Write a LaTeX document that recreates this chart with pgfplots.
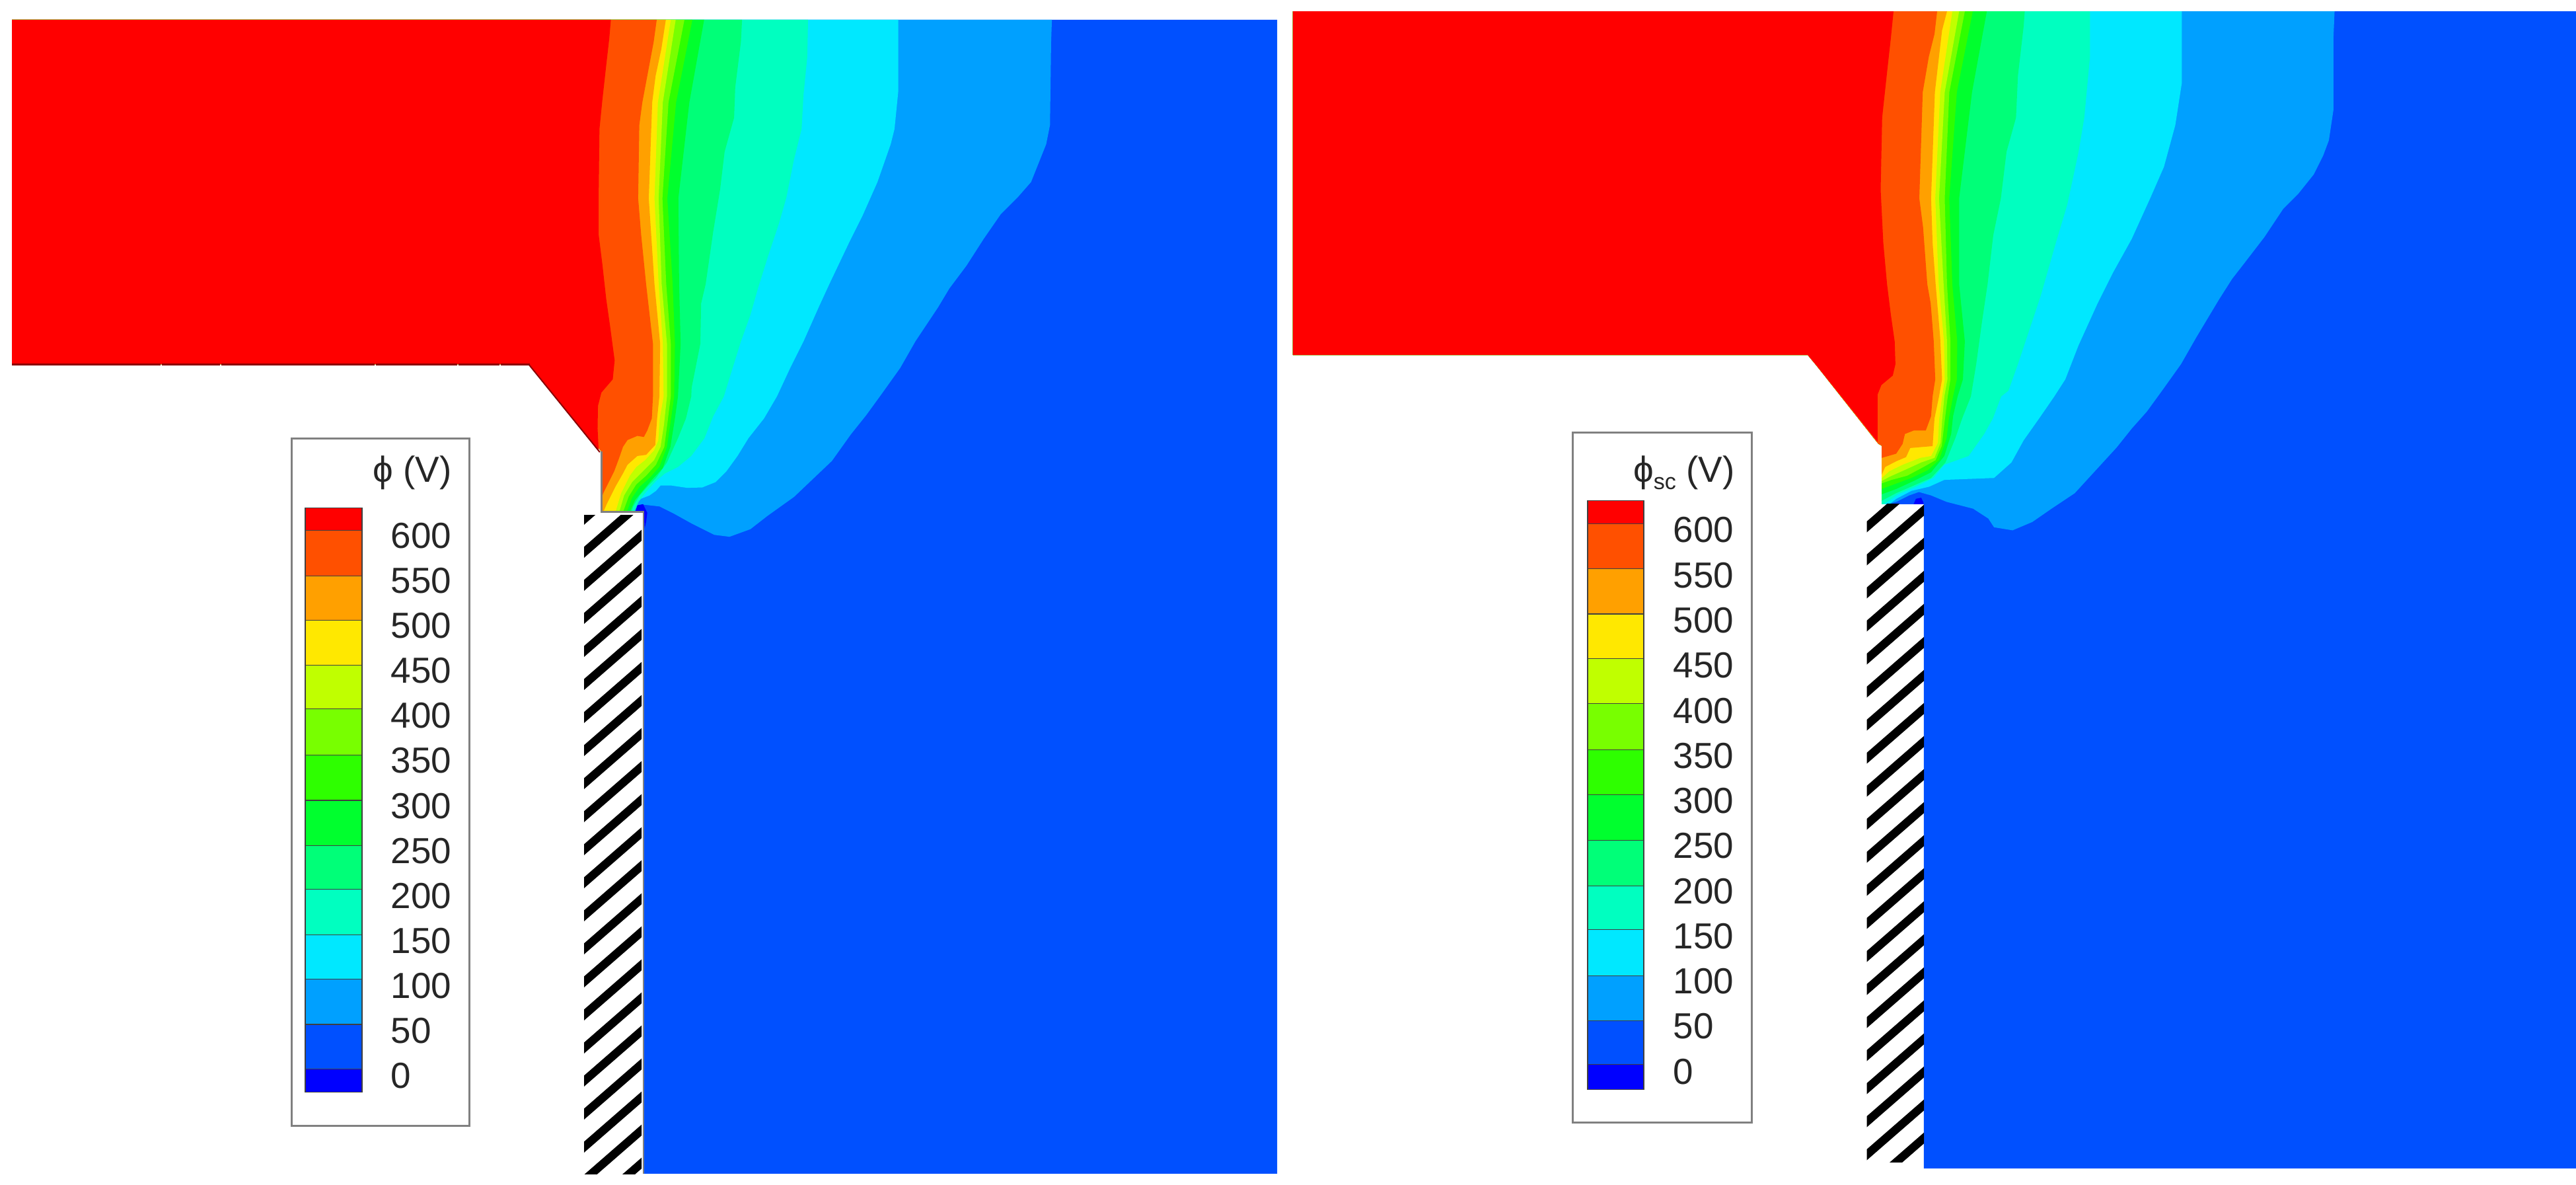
\documentclass[border=0pt]{standalone}
\usepackage{pgfplots}
\pgfplotsset{compat=1.18}
\usepackage{fontspec}
\setmainfont{Liberation Sans}
\definecolor{c0}{HTML}{0000FF}
\definecolor{c1}{HTML}{0050FF}
\definecolor{c2}{HTML}{00A0FF}
\definecolor{c3}{HTML}{00E8FF}
\definecolor{c4}{HTML}{00FFC0}
\definecolor{c5}{HTML}{00FF78}
\definecolor{c6}{HTML}{00FF2E}
\definecolor{c7}{HTML}{2EFF00}
\definecolor{c8}{HTML}{78FF00}
\definecolor{c9}{HTML}{C0FF00}
\definecolor{c10}{HTML}{FFE800}
\definecolor{c11}{HTML}{FFA000}
\definecolor{c12}{HTML}{FF5000}
\definecolor{c13}{HTML}{FF0000}
\pgfplotsset{pano/.style={hide axis,scale only axis,width=38.99cm,height=17.93cm,at={(0cm,0cm)},anchor=south west,y dir=reverse,clip=false}}
\newcommand{\lbar}[5]{\addplot[fill=#1,draw=black!75,line width=0.012cm] coordinates {(#2,#4)(#3,#4)(#3,#5)(#2,#5)} -- cycle;}
\newcommand{\lab}[3]{\node[anchor=base west,inner sep=0pt,text=black!85] at (axis cs:#1,#2) {\fontsize{15.6}{18}\selectfont #3};}
\begin{document}
\begin{tikzpicture}
\path[use as bounding box] (0cm,0cm) rectangle (38.99cm,17.93cm);
% ---------- left field (crop frame)
\begin{axis}[pano,xmin=-1393.78,xmax=5399.2,ymin=0,ymax=3123.8]
\addplot[fill=c1,draw=none] coordinates {(-1362,52)(1974,52)(1974,3094)(305,3094)(305,1350)(192,1350)(192,1190)(0,960)(-1362,960)};
\addplot[fill=c2,draw=none] coordinates {(1380,52)(1378,110)(1375,330)(1365,380)(1345,430)(1325,480)(1290,520)(1245,565)(1200,630)(1155,700)(1110,760)(1080,810)(1020,900)(980,970)(930,1040)(890,1095)(850,1145)(800,1215)(700,1310)(630,1360)(585,1395)(530,1415)(490,1410)(430,1380)(385,1355)(345,1335)(300,1330)(280,1350)(192,1350)(192,1190)(0,960)(-1362,960)(-1362,52)};
\addplot[fill=c3,draw=none] coordinates {(975,52)(975,240)(965,340)(955,380)(920,480)(880,570)(845,640)(795,745)(765,810)(725,900)(690,970)(655,1045)(621,1103)(580,1155)(551,1202)(522,1242)(493,1271)(458,1285)(418,1286)(377,1280)(348,1280)(336,1294)(319,1306)(296,1315)(281,1329)(273,1350)(192,1350)(192,1190)(0,960)(-1362,960)(-1362,52)};
\addplot[fill=c4,draw=none] coordinates {(737,52)(735,150)(725,250)(720,340)(700,420)(680,520)(660,590)(630,680)(605,760)(585,830)(560,900)(535,980)(515,1045)(487,1097)(464,1155)(429,1202)(394,1231)(360,1248)(336,1268)(307,1300)(290,1323)(278,1350)(192,1350)(192,1190)(0,960)(-1362,960)(-1362,52)};
\addplot[fill=c5,draw=none] coordinates {(563,52)(560,110)(545,230)(542,310)(517,400)(505,500)(487,610)(467,749)(455,800)(453,906)(430,1022)(429,1045)(415,1103)(394,1155)(365,1219)(336,1260)(316,1280)(293,1306)(276,1335)(271,1350)(192,1350)(192,1190)(0,960)(-1362,960)(-1362,52)};
\addplot[fill=c6,draw=none] coordinates {(463,52)(424,270)(395,523)(397,749)(401,906)(394,1045)(386,1103)(374,1178)(354,1234)(325,1265)(305,1289)(281,1318)(267,1350)(192,1350)(192,1190)(0,960)(-1362,960)(-1362,52)};
\addplot[fill=c7,draw=none] coordinates {(432,52)(389,270)(366,523)(380,749)(386,906)(384,1045)(375,1109)(365,1178)(345,1231)(319,1260)(293,1283)(273,1312)(259,1350)(192,1350)(192,1190)(0,960)(-1362,960)(-1362,52)};
\addplot[fill=c8,draw=none] coordinates {(411,52)(369,270)(353,523)(363,749)(375,906)(375,1045)(367,1109)(358,1178)(336,1225)(310,1254)(284,1277)(264,1309)(249,1350)(192,1350)(192,1190)(0,960)(-1362,960)(-1362,52)};
\addplot[fill=c9,draw=none] coordinates {(388,52)(354,270)(343,523)(351,749)(365,906)(365,1045)(357,1120)(348,1178)(331,1213)(302,1242)(273,1271)(252,1306)(239,1350)(192,1350)(192,1190)(0,960)(-1362,960)(-1362,52)};
\addplot[fill=c10,draw=none] coordinates {(375,52)(341,270)(332,523)(343,749)(354,906)(356,1045)(346,1103)(342,1161)(331,1187)(307,1213)(284,1231)(267,1254)(244,1300)(229,1350)(192,1350)(192,1190)(0,960)(-1362,960)(-1362,52)};
\addplot[fill=c11,draw=none] coordinates {(362,52)(350,130)(335,200)(326,270)(317,523)(332,749)(347,906)(345,1045)(339,1103)(334,1173)(310,1199)(287,1202)(261,1225)(249,1248)(229,1283)(206,1329)(197,1350)(192,1350)(192,1190)(0,960)(-1362,960)(-1362,52)};
\addplot[fill=c12,draw=none] coordinates {(338,52)(330,110)(315,190)(300,270)(292,330)(289,523)(297,620)(310,749)(328,906)(328,1045)(325,1103)(313,1135)(304,1152)(287,1149)(261,1160)(249,1178)(239,1207)(226,1242)(197,1300)(192,1315)(192,1190)(0,960)(-1362,960)(-1362,52)};
\addplot[fill=c13,draw=none] coordinates {(217,52)(213,100)(205,170)(195,260)(187,340)(185,500)(185,620)(195,700)(205,790)(215,860)(227,950)(222,1000)(192,1035)(183,1070)(182,1130)(185,1190)(0,960)(-1362,960)(-1362,52)};
\addplot[fill=c0,draw=none] coordinates {(281,1350)(287,1332)(302,1329)(313,1352)(310,1376)(306,1393)(304,1350)};
\addplot[draw=black!50,line width=0.028cm] coordinates {(192,1190)(192,1350)(303,1350)(303,3094)};
\addplot[draw=red!55!black,line width=0.02cm] coordinates {(0,960)(188,1192)};
\addplot[draw=red!55!black,line width=0.03cm,unbounded coords=jump] coordinates {(-1362,960)(-970,960)(-968,nan)(-967,960)(-814,960)(-812,nan)(-810,960)(-406,960)(-404,nan)(-402,960)(-188,960)(-186,nan)(-185,960)(-77,960)(-75,nan)(-73,960)(3,960)};
\end{axis}
% ---------- right field (crop frame)
\begin{axis}[pano,xmin=-4791.1,xmax=2001.8,ymin=0,ymax=3123.8]
\addplot[fill=c1,draw=none] coordinates {(-1382,30)(2002,30)(2002,3080)(282,3080)(282,1329)(171,1329)(171,1175)(162,1170)(0,965)(-24,936)(-1382,936)};
\addplot[fill=c2,draw=none] coordinates {(1365,30)(1362,100)(1362,290)(1350,370)(1335,410)(1310,460)(1270,510)(1230,550)(1180,625)(1130,690)(1095,735)(1060,790)(1000,890)(960,960)(910,1030)(870,1085)(830,1130)(790,1180)(680,1300)(620,1340)(568,1376)(516,1398)(467,1390)(452,1367)(412,1341)(342,1323)(301,1306)(269,1297)(243,1306)(209,1323)(190,1329)(171,1329)(171,1175)(162,1170)(0,965)(-24,936)(-1382,936)(-1382,30)};
\addplot[fill=c3,draw=none] coordinates {(962,30)(962,220)(945,330)(915,440)(880,520)(830,630)(780,720)(740,800)(690,910)(655,1000)(626,1045)(586,1103)(545,1161)(513,1219)(467,1260)(336,1265)(296,1283)(249,1294)(209,1315)(191,1329)(171,1329)(171,1175)(162,1170)(0,965)(-24,936)(-1382,936)(-1382,30)};
\addplot[fill=c4,draw=none] coordinates {(720,30)(720,150)(705,310)(690,400)(660,540)(630,640)(590,780)(560,870)(530,960)(505,1030)(486,1045)(464,1103)(441,1144)(417,1178)(400,1202)(336,1225)(307,1260)(261,1283)(214,1303)(177,1329)(171,1329)(171,1175)(162,1170)(0,965)(-24,936)(-1382,936)(-1382,30)};
\addplot[fill=c5,draw=none] coordinates {(548,30)(545,70)(530,200)(525,310)(500,400)(485,523)(465,620)(450,749)(435,850)(420,960)(406,1045)(383,1103)(365,1155)(339,1219)(301,1260)(255,1280)(209,1300)(171,1320)(171,1175)(162,1170)(0,965)(-24,936)(-1382,936)(-1382,30)};
\addplot[fill=c6,draw=none] coordinates {(448,30)(409,243)(375,523)(375,749)(390,900)(385,1000)(371,1045)(359,1097)(354,1144)(336,1202)(301,1245)(255,1268)(209,1289)(171,1303)(171,1175)(162,1170)(0,965)(-24,936)(-1382,936)(-1382,30)};
\addplot[fill=c7,draw=none] coordinates {(411,30)(369,243)(349,523)(357,749)(370,900)(369,1000)(359,1045)(348,1103)(342,1155)(322,1213)(293,1239)(249,1260)(203,1277)(171,1289)(171,1175)(162,1170)(0,965)(-24,936)(-1382,936)(-1382,30)};
\addplot[fill=c8,draw=none] coordinates {(390,30)(349,243)(337,523)(343,749)(352,900)(352,1000)(345,1045)(337,1109)(329,1176)(313,1213)(281,1231)(238,1254)(197,1265)(171,1274)(171,1175)(162,1170)(0,965)(-24,936)(-1382,936)(-1382,30)};
\addplot[fill=c9,draw=none] coordinates {(375,30)(337,243)(322,523)(334,749)(343,900)(344,1000)(336,1045)(330,1109)(326,1167)(310,1207)(275,1219)(238,1236)(191,1257)(171,1268)(171,1175)(162,1170)(0,965)(-24,936)(-1382,936)(-1382,30)};
\addplot[fill=c10,draw=none] coordinates {(357,30)(325,243)(312,523)(321,749)(335,900)(337,1000)(330,1045)(322,1109)(319,1167)(301,1202)(272,1207)(226,1225)(191,1242)(171,1260)(171,1175)(162,1170)(0,965)(-24,936)(-1382,936)(-1382,30)};
\addplot[fill=c11,draw=none] coordinates {(343,30)(330,80)(311,243)(301,523)(305,640)(313,749)(325,890)(330,1000)(322,1045)(310,1103)(305,1176)(246,1181)(235,1205)(209,1216)(180,1231)(171,1251)(171,1175)(162,1170)(0,965)(-24,936)(-1382,936)(-1382,30)};
\addplot[fill=c12,draw=none] coordinates {(317,30)(310,90)(295,150)(279,243)(270,523)(280,600)(291,749)(300,800)(308,900)(312,1000)(305,1045)(301,1097)(287,1135)(255,1135)(232,1144)(226,1170)(209,1196)(171,1207)(171,1175)(162,1170)(0,965)(-24,936)(-1382,936)(-1382,30)};
\addplot[fill=c13,draw=none] coordinates {(202,30)(195,100)(185,190)(172,310)(168,500)(175,640)(185,750)(195,830)(205,900)(207,960)(200,990)(170,1015)(160,1040)(160,1165)(0,965)(-24,936)(-1382,936)(-1382,30)};
\addplot[fill=c0,draw=none] coordinates {(261,1315)(275,1312)(281,1325)(281,1329)(255,1329)};
\end{axis}
% ---------- hatching
\begin{axis}[hide axis,scale only axis,width=0.87cm,height=9.96cm,at={(8.84cm,0.17cm)},anchor=south west,y dir=reverse,clip=true,xmin=884,xmax=971,ymin=780,ymax=1776,unbounded coords=jump]
\addplot[black,line width=0.125cm] coordinates {(870,797.9)(985,697.8)(985,nan)(870,847.9)(985,747.8)(985,nan)(870,897.9)(985,797.8)(985,nan)(870,947.9)(985,847.8)(985,nan)(870,997.9)(985,897.8)(985,nan)(870,1047.9)(985,947.8)(985,nan)(870,1097.9)(985,997.8)(985,nan)(870,1147.9)(985,1047.8)(985,nan)(870,1197.9)(985,1097.8)(985,nan)(870,1247.9)(985,1147.8)(985,nan)(870,1297.9)(985,1197.8)(985,nan)(870,1347.9)(985,1247.8)(985,nan)(870,1397.9)(985,1297.8)(985,nan)(870,1447.9)(985,1347.8)(985,nan)(870,1497.9)(985,1397.8)(985,nan)(870,1547.9)(985,1447.8)(985,nan)(870,1597.9)(985,1497.8)(985,nan)(870,1647.9)(985,1547.8)(985,nan)(870,1697.9)(985,1597.8)(985,nan)(870,1747.9)(985,1647.8)(985,nan)(870,1797.9)(985,1697.8)(985,nan)(870,1847.9)(985,1747.8)(985,nan)(870,1897.9)(985,1797.8)};
\end{axis}
\begin{axis}[hide axis,scale only axis,width=0.865cm,height=9.95cm,at={(28.255cm,0.35cm)},anchor=south west,y dir=reverse,clip=true,xmin=2825.5,xmax=2912,ymin=763,ymax=1758,unbounded coords=jump]
\addplot[black,line width=0.125cm] coordinates {(2811,809.9)(2926,709.8)(2926,nan)(2811,859.9)(2926,759.8)(2926,nan)(2811,909.9)(2926,809.8)(2926,nan)(2811,959.9)(2926,859.8)(2926,nan)(2811,1009.9)(2926,909.8)(2926,nan)(2811,1059.9)(2926,959.8)(2926,nan)(2811,1109.9)(2926,1009.8)(2926,nan)(2811,1159.9)(2926,1059.8)(2926,nan)(2811,1209.9)(2926,1109.8)(2926,nan)(2811,1259.9)(2926,1159.8)(2926,nan)(2811,1309.9)(2926,1209.8)(2926,nan)(2811,1359.9)(2926,1259.8)(2926,nan)(2811,1409.9)(2926,1309.8)(2926,nan)(2811,1459.9)(2926,1359.8)(2926,nan)(2811,1509.9)(2926,1409.8)(2926,nan)(2811,1559.9)(2926,1459.8)(2926,nan)(2811,1609.9)(2926,1509.8)(2926,nan)(2811,1659.9)(2926,1559.8)(2926,nan)(2811,1709.9)(2926,1609.8)(2926,nan)(2811,1759.9)(2926,1659.8)(2926,nan)(2811,1809.9)(2926,1709.8)(2926,nan)(2811,1859.9)(2926,1759.8)};
\end{axis}
% ---------- legends (pixel frame)
\begin{axis}[pano,xmin=0,xmax=3899,ymin=0,ymax=1793]
\addplot[fill=white,draw=black!50,line width=0.03cm] coordinates {(441,664)(710,664)(710,1703)(441,1703)} -- cycle;
\lbar{c13}{462}{548}{768.4}{802.7}
\lbar{c12}{462}{548}{802.7}{871.5}
\lbar{c11}{462}{548}{871.5}{938.1}
\lbar{c10}{462}{548}{938.1}{1006.2}
\lbar{c9}{462}{548}{1006.2}{1072.8}
\lbar{c8}{462}{548}{1072.8}{1142.3}
\lbar{c7}{462}{548}{1142.3}{1211}
\lbar{c6}{462}{548}{1211}{1279.8}
\lbar{c5}{462}{548}{1279.8}{1345.7}
\lbar{c4}{462}{548}{1345.7}{1414.5}
\lbar{c3}{462}{548}{1414.5}{1481.8}
\lbar{c2}{462}{548}{1481.8}{1549.9}
\lbar{c1}{462}{548}{1549.9}{1617.2}
\lbar{c0}{462}{548}{1617.2}{1652.3}
\lab{591}{829.4}{600}
\lab{591}{897.5}{550}
\lab{591}{965.6}{500}
\lab{591}{1033.7}{450}
\lab{591}{1101.8}{400}
\lab{591}{1169.9}{350}
\lab{591}{1238}{300}
\lab{591}{1306.1}{250}
\lab{591}{1374.2}{200}
\lab{591}{1442.3}{150}
\lab{591}{1510.4}{100}
\lab{591}{1578.5}{50}
\lab{591}{1646.6}{0}
\node[anchor=base east,inner sep=0pt,text=black!85] at (axis cs:684,730) {\fontsize{15.6}{18}\selectfont ϕ (V)};
\addplot[fill=white,draw=black!50,line width=0.03cm] coordinates {(2380,655)(2651,655)(2651,1698)(2380,1698)} -- cycle;
\lbar{c13}{2403}{2488}{757.3}{792.5}
\lbar{c12}{2403}{2488}{792.5}{860.8}
\lbar{c11}{2403}{2488}{860.8}{929}
\lbar{c10}{2403}{2488}{929}{996.4}
\lbar{c9}{2403}{2488}{996.4}{1064.6}
\lbar{c8}{2403}{2488}{1064.6}{1134.3}
\lbar{c7}{2403}{2488}{1134.3}{1202.5}
\lbar{c6}{2403}{2488}{1202.5}{1271.5}
\lbar{c5}{2403}{2488}{1271.5}{1340.4}
\lbar{c4}{2403}{2488}{1340.4}{1406.4}
\lbar{c3}{2403}{2488}{1406.4}{1476.1}
\lbar{c2}{2403}{2488}{1476.1}{1544.3}
\lbar{c1}{2403}{2488}{1544.3}{1610.3}
\lbar{c0}{2403}{2488}{1610.3}{1648.4}
\lab{2532}{821}{600}
\lab{2532}{889.3}{550}
\lab{2532}{957.5}{500}
\lab{2532}{1025.8}{450}
\lab{2532}{1094}{400}
\lab{2532}{1162.3}{350}
\lab{2532}{1230.5}{300}
\lab{2532}{1298.8}{250}
\lab{2532}{1367}{200}
\lab{2532}{1435.3}{150}
\lab{2532}{1503.5}{100}
\lab{2532}{1571.8}{50}
\lab{2532}{1640}{0}
\node[anchor=base east,inner sep=0pt,text=black!85] at (axis cs:2626,729.5) {\fontsize{15.6}{18}\selectfont ϕ\raisebox{-0.2em}{\fontsize{9.7}{10}\selectfont sc} (V)};
\end{axis}
\end{tikzpicture}
\end{document}
